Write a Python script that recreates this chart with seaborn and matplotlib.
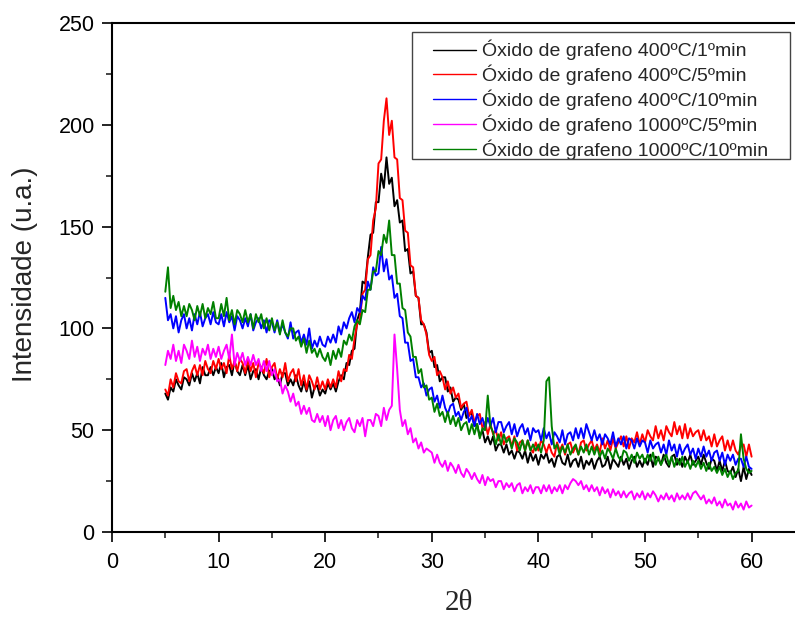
import numpy as np
import pandas as pd
import matplotlib
matplotlib.use("Agg")
import matplotlib.pyplot as plt
from matplotlib.patches import Rectangle
from matplotlib.lines import Line2D
from matplotlib.ticker import MultipleLocator
import seaborn as sns

# sampling axis (2theta, degrees)
two_theta = np.arange(5.0, 60.001, 0.25)

labels = [
    "Óxido de grafeno 400ºC/1ºmin",
    "Óxido de grafeno 400ºC/5ºmin",
    "Óxido de grafeno 400ºC/10ºmin",
    "Óxido de grafeno 1000ºC/5ºmin",
    "Óxido de grafeno 1000ºC/10ºmin",
]
colors = ["#000000", "#FF0000", "#0000FF", "#FF00FF", "#008000"]

go_400_1 = [
    68, 65, 71, 69, 75, 72, 70, 76, 75, 72, 78, 74, 78, 73, 81, 77, 77, 81, 77, 81,
    78, 83, 76, 81, 82, 77, 84, 79, 77, 82, 77, 82, 75, 79, 80, 75, 81, 77, 75, 79,
    80, 75, 77, 72, 78, 78, 72, 75, 72, 77, 72, 69, 74, 69, 74, 66, 71, 72, 67, 70,
    68, 73, 70, 73, 69, 74, 77, 75, 83, 82, 89, 90, 104, 108, 123, 122, 135, 146, 147, 162,
    162, 176, 169, 184, 171, 174, 160, 163, 152, 153, 138, 139, 127, 128, 116, 115, 102, 102, 98, 88,
    89, 81, 82, 74, 76, 76, 69, 71, 64, 66, 65, 60, 63, 56, 58, 58, 52, 53, 47, 50,
    44, 47, 43, 47, 40, 43, 43, 39, 43, 38, 40, 36, 40, 39, 36, 40, 34, 39, 35, 38,
    33, 38, 36, 39, 34, 36, 32, 37, 38, 34, 33, 38, 32, 35, 36, 32, 37, 31, 35, 33,
    36, 31, 35, 37, 32, 33, 37, 31, 36, 34, 32, 37, 33, 36, 31, 35, 37, 32, 35, 32,
    36, 33, 38, 32, 37, 36, 33, 38, 34, 32, 37, 38, 33, 36, 32, 37, 34, 38, 33, 35,
    37, 33, 38, 34, 31, 36, 35, 30, 35, 30, 35, 30, 29, 32, 27, 31, 25, 32, 26, 31,
    28,
]

go_400_5 = [
    70, 67, 75, 71, 78, 74, 73, 79, 80, 74, 79, 82, 77, 82, 77, 84, 80, 78, 84, 80,
    85, 80, 83, 78, 87, 80, 84, 79, 85, 83, 78, 85, 79, 83, 76, 83, 81, 78, 85, 76,
    81, 83, 75, 80, 76, 83, 74, 78, 80, 74, 80, 72, 77, 70, 77, 74, 70, 76, 70, 74,
    70, 75, 71, 75, 71, 79, 74, 80, 79, 87, 85, 95, 102, 104, 117, 119, 134, 136, 153, 159,
    181, 183, 202, 213, 195, 202, 184, 183, 164, 163, 148, 147, 131, 130, 116, 115, 104, 102, 97, 87,
    84, 86, 77, 79, 76, 70, 74, 68, 71, 66, 68, 61, 63, 64, 57, 60, 54, 57, 58, 51,
    54, 48, 53, 48, 50, 45, 49, 43, 46, 47, 42, 47, 40, 44, 45, 40, 45, 41, 39, 44,
    40, 45, 43, 39, 43, 39, 37, 44, 40, 43, 38, 43, 44, 39, 42, 38, 44, 45, 40, 43,
    45, 40, 43, 39, 46, 41, 45, 40, 46, 41, 44, 47, 42, 47, 41, 46, 44, 49, 43, 48,
    44, 50, 47, 45, 52, 46, 50, 45, 52, 49, 47, 54, 48, 52, 46, 53, 46, 51, 47, 49,
    50, 45, 50, 45, 47, 42, 48, 42, 45, 47, 40, 45, 40, 45, 40, 38, 42, 43, 37, 43,
    37,
]

go_400_10 = [
    115, 104, 107, 100, 106, 98, 104, 107, 100, 105, 99, 107, 102, 108, 101, 105, 107, 102, 108, 103,
    102, 107, 101, 108, 103, 106, 99, 106, 104, 100, 105, 101, 107, 99, 103, 105, 100, 104, 98, 104,
    103, 98, 104, 98, 102, 98, 95, 103, 95, 98, 99, 93, 97, 92, 100, 90, 94, 91, 96, 92,
    91, 96, 93, 97, 93, 101, 97, 103, 100, 105, 108, 103, 110, 108, 116, 114, 123, 119, 130, 126,
    127, 140, 128, 134, 124, 126, 115, 117, 106, 105, 93, 93, 84, 85, 76, 76, 71, 73, 67, 70,
    71, 64, 67, 61, 67, 61, 58, 62, 63, 57, 59, 55, 59, 61, 54, 57, 52, 58, 53, 56,
    51, 56, 52, 56, 49, 54, 54, 49, 52, 54, 48, 53, 47, 51, 53, 48, 51, 45, 51, 49,
    50, 45, 51, 46, 49, 43, 49, 47, 44, 50, 43, 48, 49, 45, 51, 46, 51, 46, 53, 49,
    45, 50, 45, 48, 43, 48, 46, 43, 49, 42, 46, 43, 47, 41, 46, 45, 41, 46, 42, 45,
    44, 39, 45, 41, 43, 44, 39, 43, 38, 45, 40, 43, 37, 43, 38, 41, 43, 38, 41, 36,
    41, 37, 42, 37, 40, 35, 39, 40, 35, 39, 33, 38, 35, 38, 33, 36, 36, 32, 37, 32,
    31,
]

go_1000_5 = [
    82, 89, 85, 92, 84, 89, 83, 92, 89, 85, 94, 86, 91, 84, 90, 87, 92, 85, 90, 86,
    91, 85, 89, 92, 85, 97, 82, 88, 84, 88, 82, 86, 82, 87, 82, 85, 79, 84, 79, 84,
    77, 80, 74, 75, 68, 72, 69, 64, 68, 62, 64, 58, 62, 58, 61, 55, 54, 58, 54, 57,
    52, 57, 50, 55, 57, 51, 55, 50, 54, 56, 51, 49, 55, 52, 56, 47, 55, 55, 52, 58,
    57, 52, 61, 55, 60, 62, 97, 80, 60, 52, 55, 48, 51, 44, 46, 41, 44, 39, 41, 40,
    39, 34, 38, 34, 32, 35, 30, 34, 32, 29, 33, 29, 27, 31, 29, 26, 29, 26, 24, 28,
    23, 27, 25, 26, 22, 25, 25, 21, 24, 22, 24, 20, 23, 24, 19, 22, 20, 23, 19, 22,
    22, 19, 23, 20, 23, 19, 22, 20, 23, 19, 23, 21, 24, 26, 25, 23, 25, 21, 23, 20,
    23, 20, 22, 18, 22, 19, 21, 17, 21, 18, 20, 17, 20, 17, 19, 20, 16, 19, 17, 20,
    16, 19, 17, 20, 18, 15, 18, 16, 19, 16, 18, 15, 19, 16, 18, 16, 19, 16, 19, 20,
    18, 16, 18, 14, 16, 14, 17, 13, 15, 12, 16, 13, 14, 11, 15, 12, 14, 11, 15, 12,
    13,
]

go_1000_10 = [
    118, 130, 110, 116, 109, 113, 106, 111, 106, 112, 109, 104, 111, 106, 112, 105, 110, 107, 113, 105,
    105, 112, 106, 115, 104, 109, 102, 109, 107, 103, 109, 103, 107, 100, 107, 103, 107, 100, 105, 99,
    105, 99, 103, 97, 104, 98, 96, 100, 100, 94, 96, 91, 95, 88, 94, 88, 90, 86, 90, 86,
    84, 88, 82, 89, 85, 90, 86, 94, 92, 97, 94, 101, 104, 102, 109, 108, 119, 119, 128, 128,
    138, 136, 146, 142, 153, 136, 136, 122, 122, 110, 109, 98, 96, 86, 86, 78, 80, 71, 72, 65,
    66, 59, 63, 57, 59, 54, 59, 53, 57, 52, 56, 50, 53, 54, 48, 53, 48, 53, 46, 51,
    50, 67, 52, 49, 43, 48, 43, 48, 44, 46, 41, 46, 44, 40, 45, 40, 45, 40, 43, 40,
    43, 39, 45, 74, 76, 52, 41, 43, 38, 42, 39, 43, 38, 41, 43, 38, 42, 39, 43, 38,
    42, 38, 42, 37, 40, 36, 41, 39, 36, 41, 37, 35, 40, 39, 35, 38, 34, 39, 36, 38,
    34, 38, 35, 39, 33, 37, 33, 36, 38, 33, 37, 32, 36, 33, 37, 32, 35, 31, 35, 32,
    35, 31, 34, 30, 34, 30, 32, 29, 32, 28, 31, 27, 30, 26, 29, 30, 48, 36, 31, 29,
    30,
]

series = [go_400_1, go_400_5, go_400_10, go_1000_5, go_1000_10]

frames = []
for lab, vals in zip(labels, series):
    frames.append(pd.DataFrame({"2θ": two_theta, "I": vals, "amostra": lab}))
df = pd.concat(frames, ignore_index=True)

sns.set_style("ticks")
plt.rcParams["font.family"] = ["Liberation Sans", "DejaVu Sans"]

W, H = 795, 618
fig = plt.figure(figsize=(W / 100, H / 100), dpi=100)
ax = fig.add_axes([112 / W, 1 - 532 / H, (W - 112) / W, (532 - 23) / H])

sns.lineplot(data=df, x="2θ", y="I", hue="amostra", hue_order=labels,
             palette=colors, linewidth=1.4, estimator=None, sort=False,
             ax=ax, legend=False)

ax.set_xlim(0, (W - 112) / 10.66)
ax.set_ylim(0, 250)
ax.xaxis.set_major_locator(MultipleLocator(10))
ax.xaxis.set_minor_locator(MultipleLocator(5))
ax.yaxis.set_major_locator(MultipleLocator(50))
ax.yaxis.set_minor_locator(MultipleLocator(25))
ax.tick_params(which="major", direction="out", length=7.5, width=1.2,
               labelsize=15.5, pad=5, colors="black")
ax.tick_params(which="minor", direction="out", length=4, width=1.2)
ax.tick_params(axis="x", which="major", pad=7)

for side in ["left", "bottom", "top"]:
    ax.spines[side].set_linewidth(1.5)
    ax.spines[side].set_color("black")
ax.spines["right"].set_visible(False)

ax.set_ylabel("Intensidade (u.a.)", fontsize=20)
ax.yaxis.set_label_coords(-0.108, 0.507)
ax.set_xlabel("2θ", fontsize=21, family=["Liberation Serif", "DejaVu Serif"])
ax.xaxis.set_label_coords(0.508, -0.113)

# legend
handles = [Line2D([], [], color=c, lw=1.0) for c in colors]
leg = ax.legend(handles, labels, loc="upper left",
                bbox_to_anchor=(433 / W, 1 - 40 / H),
                bbox_transform=fig.transFigure, frameon=False,
                fontsize=14, borderpad=0, borderaxespad=0,
                handlelength=2.2, handletextpad=0.3, labelspacing=0.22)
fig.add_artist(Rectangle((412 / W, 1 - 159 / H), (790 - 412) / W, (159 - 32) / H,
                         transform=fig.transFigure, fill=False,
                         edgecolor="#444444", linewidth=1.0))

fig.savefig("out.png", dpi=100)
